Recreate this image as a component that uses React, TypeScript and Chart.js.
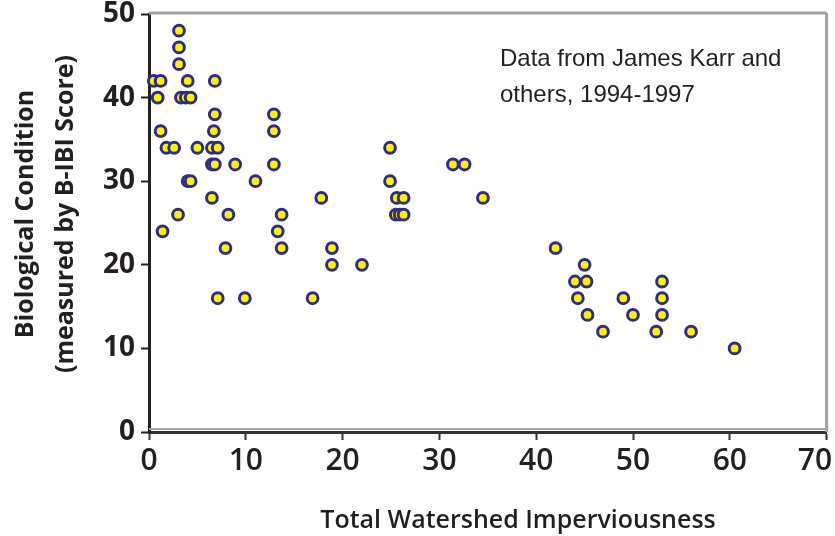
import React, { useEffect, useRef } from "react";
import { Chart, registerables } from "chart.js";

Chart.register(...registerables);

// Total watershed imperviousness (%)
const imperviousness: number[] = [
  3.1, 3.1, 3.1,
  0.5, 1.2, 4.0, 6.8,
  0.9, 3.3, 3.8, 4.3,
  6.8, 12.9,
  1.2, 6.7, 12.9,
  1.8, 2.6, 5.0, 6.5, 7.1,
  6.5, 6.8, 8.9, 12.9,
  4.0, 4.3, 11.0,
  6.5, 17.8,
  3.0, 8.2, 13.7,
  1.4, 13.3,
  7.9, 13.7, 18.9,
  18.9, 22.0,
  7.1, 9.9, 16.9,
  24.9, 24.9, 25.6, 26.3, 25.5, 25.9, 26.3, 31.4, 32.6, 34.5,
  42.0, 45.0, 44.0, 45.2, 53.0, 44.3, 49.0, 53.0, 45.3, 50.0, 53.0,
  46.9, 52.4, 56.0, 60.5,
];

// Biological condition (B-IBI score)
const bibiScore: number[] = [
  48, 46, 44,
  42, 42, 42, 42,
  40, 40, 40, 40,
  38, 38,
  36, 36, 36,
  34, 34, 34, 34, 34,
  32, 32, 32, 32,
  30, 30, 30,
  28, 28,
  26, 26, 26,
  24, 24,
  22, 22, 22,
  20, 20,
  16, 16, 16,
  34, 30, 28, 28, 26, 26, 26, 32, 32, 28,
  22, 20, 18, 18, 18, 16, 16, 16, 14, 14, 14,
  12, 12, 12, 10,
];

const xTickLabels: string[] = ["0", "10", "20", "30", "40", "50", "60", "70"];
const yTickLabels: string[] = ["0", "10", "20", "30", "40", "50"];

const xAxisTitle = "Total Watershed Imperviousness";
const yAxisTitle: string[] = ["Biological Condition", "(measured by B-IBI Score)"];
const sourceNote: string[] = ["Data from James Karr and", "others, 1994-1997"];

const TEXT = "#231f20";

const framePlugin = {
  id: "frame",
  beforeDatasetsDraw(chart: any) {
    const { ctx, chartArea } = chart;
    const { left, right, top, bottom } = chartArea;
    ctx.save();
    ctx.strokeStyle = "#a3a3a3";
    ctx.lineWidth = 3;
    ctx.beginPath();
    ctx.moveTo(left, top - 1);
    ctx.lineTo(right, top - 1);
    ctx.moveTo(right, top - 1);
    ctx.lineTo(right, bottom);
    ctx.stroke();
    ctx.lineWidth = 2;
    ctx.beginPath();
    ctx.moveTo(left, bottom - 3);
    ctx.lineTo(right, bottom - 3);
    ctx.stroke();
    ctx.restore();
  },
};

const textPlugin = {
  id: "texts",
  afterDraw(chart: any) {
    const { ctx } = chart;
    ctx.save();
    ctx.fillStyle = TEXT;
    // x axis title
    ctx.font = '600 25px "Open Sans"';
    ctx.textAlign = "center";
    ctx.textBaseline = "alphabetic";
    ctx.fillText(xAxisTitle, 518, 528);
    // y axis title (two lines)
    ctx.save();
    ctx.translate(33, 214);
    ctx.rotate(-Math.PI / 2);
    ctx.font = '700 25px "Open Sans"';
    ctx.textAlign = "center";
    ctx.fillText(yAxisTitle[0], 0, 0);
    ctx.fillText(yAxisTitle[1], 0, 40);
    ctx.restore();
    // source note
    ctx.font = '24px "Liberation Sans", Arial, sans-serif';
    ctx.textAlign = "left";
    ctx.fillText(sourceNote[0], 500, 66);
    ctx.fillText(sourceNote[1], 500, 102);
    ctx.restore();
  },
};

export default function App() {
  const canvasRef = useRef<HTMLCanvasElement | null>(null);

  useEffect(() => {
    const canvas = canvasRef.current;
    if (!canvas) return;
    const points = imperviousness.map((x, i) => ({ x, y: bibiScore[i] }));
    const chart = new Chart(canvas, {
      type: "scatter",
      data: {
        datasets: [
          {
            data: points,
            backgroundColor: "#fff100",
            borderColor: "#2d2e83",
            borderWidth: 3,
            pointRadius: 5.4,
            pointHoverRadius: 5.4,
            clip: false as any,
          },
        ],
      },
      options: {
        responsive: true,
        maintainAspectRatio: false,
        animation: false,
        events: [],
        layout: { padding: { top: 14, right: 7, bottom: 0, left: 0 } },
        plugins: {
          legend: { display: false },
          tooltip: { enabled: false },
          title: { display: false },
        },
        scales: {
          x: {
            type: "linear",
            min: 0,
            max: 70,
            afterFit: (s: any) => {
              s.height = 104;
              s.paddingLeft = 0;
              s.paddingRight = 0;
            },
            ticks: {
              stepSize: 10,
              padding: 3,
              color: TEXT,
              font: { family: "Open Sans", size: 30, weight: "600" as any },
              callback: (v: any, i: number, ticks: any[]) => {
                const label = xTickLabels[i] ?? String(v);
                return i === ticks.length - 1 ? label + "\u00a0\u00a0\u00a0" : label;
              },
            },
            grid: {
              drawOnChartArea: false,
              drawTicks: true,
              tickLength: 8,
              tickWidth: 2,
              tickColor: "#333",
              color: "#333",
            },
            border: { display: true, color: "#333", width: 3 },
          },
          y: {
            type: "linear",
            min: 0,
            max: 50,
            afterFit: (s: any) => {
              s.width = 149;
              s.paddingTop = 0;
              s.paddingBottom = 0;
            },
            ticks: {
              stepSize: 10,
              padding: 6,
              color: TEXT,
              font: { family: "Open Sans", size: 28, weight: "700" as any },
              callback: (v: any, i: number) => yTickLabels[i] ?? String(v),
            },
            grid: {
              drawOnChartArea: false,
              drawTicks: true,
              tickLength: 8,
              tickWidth: 2,
              tickColor: "#222",
              color: "#222",
            },
            border: { display: true, color: "#222", width: 3 },
          },
        },
      },
      plugins: [framePlugin, textPlugin],
    });
    return () => chart.destroy();
  }, []);

  return (
    <div style={{ position: "fixed", left: 0, top: 0, width: 835, height: 536, background: "#fff" }}>
      <canvas ref={canvasRef} />
    </div>
  );
}
